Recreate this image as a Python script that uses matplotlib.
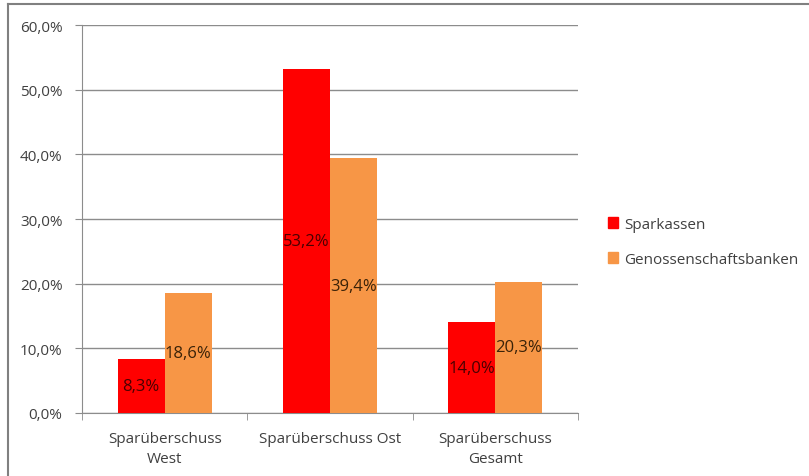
import numpy as np
import matplotlib.pyplot as plt
from matplotlib.lines import Line2D
from matplotlib.patches import Patch

plt.rcParams['font.family'] = ['Open Sans', 'DejaVu Sans']

categories = ['Sparüberschuss\nWest', 'Sparüberschuss Ost', 'Sparüberschuss\nGesamt']
sparkassen = [8.3, 53.2, 14.0]
genossen = [18.6, 39.4, 20.3]
series_names = ['Sparkassen', 'Genossenschaftsbanken']
colors = ['#FF0000', '#F79646']

fig = plt.figure(figsize=(8.09, 4.77), dpi=100)
ax = fig.add_axes([82/809, 1-414/477, (578-82)/809, (414-26)/477])

x = np.arange(len(categories))
w = 0.285
b1 = ax.bar(x - w/2, sparkassen, w, color=colors[0], zorder=3)
b2 = ax.bar(x + w/2, genossen, w, color=colors[1], zorder=3)

for bars, vals, tc in [(b1, sparkassen, '#4a0000'), (b2, genossen, '#3a2208')]:
    for r, v in zip(bars, vals):
        ax.text(r.get_x() + r.get_width()/2, v/2, f'{v:.1f}%'.replace('.', ','),
                ha='center', va='center', fontsize=12, color=tc, zorder=4)

ax.set_xlim(-0.5, 2.5)
ax.set_ylim(0, 60)
ax.set_yticks(np.arange(0, 61, 10))
ax.set_yticklabels([f'{t:.1f}%'.replace('.', ',') for t in np.arange(0, 61, 10)])
ax.yaxis.grid(True, color='#8c8c8c', linewidth=1, zorder=0)
ax.set_xticks(x)
ax.set_xticklabels(categories, linespacing=1.45)
ax.set_xticks([-0.5, 0.5, 1.5, 2.5], minor=True)
ax.tick_params(axis='x', which='major', length=0, pad=13, labelsize=11, labelcolor='#404040')
ax.tick_params(axis='x', which='minor', length=5, color='#8c8c8c', direction='out')
ax.tick_params(axis='y', length=5, color='#8c8c8c', labelsize=11, labelcolor='#404040', pad=9)
for s in ['top', 'right']:
    ax.spines[s].set_visible(False)
for s in ['left', 'bottom']:
    ax.spines[s].set_color('#8c8c8c')

handles = [Patch(color=c) for c in colors]
fig.legend(handles, series_names, loc='center left', bbox_to_anchor=(594/809, 1-243/477),
           frameon=False, fontsize=11, handlelength=0.7, handleheight=0.7,
           handletextpad=0.4, labelspacing=1.3, labelcolor='#404040')

# outer frame lines
fig.add_artist(Line2D([8/809, 1], [1-5/477, 1-5/477], color='#808080', lw=1.5))
fig.add_artist(Line2D([8/809, 8/809], [0, 1-5/477], color='#808080', lw=1.5))

fig.savefig('out.png', dpi=100)
